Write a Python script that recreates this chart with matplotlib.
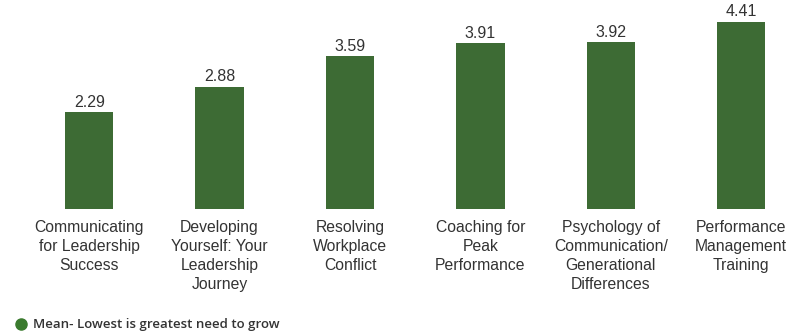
import numpy as np
import matplotlib.pyplot as plt
from matplotlib.lines import Line2D

categories = ["Communicating\nfor Leadership\nSuccess",
              "Developing\nYourself: Your\nLeadership\nJourney",
              "Resolving\nWorkplace\nConflict",
              "Coaching for\nPeak\nPerformance",
              "Psychology of\nCommunication/\nGenerational\nDifferences",
              "Performance\nManagement\nTraining"]
means = [2.29, 2.88, 3.59, 3.91, 3.92, 4.41]
legend_label = "Mean- Lowest is greatest need to grow"

bar_color = '#3d6b34'

fig = plt.figure(figsize=(7.9, 3.31), dpi=100)
ax = fig.add_axes([24/790, (331-209)/331, 766/790, 204/331])

x = np.arange(len(categories))
bars = ax.bar(x, means, 0.37, color=bar_color)

for xi, v in zip(x, means):
    ax.text(xi, v + 0.05, "%.2f" % v, ha='center', va='bottom',
            fontsize=11.5, color='#333333', family='Liberation Sans')

ax.set_xlim(-0.5, 5.374)
ax.set_ylim(0, 4.8)
ax.set_xticks(x)
ax.set_xticklabels(categories, fontsize=11.3, color='#333333',
                   family='Liberation Sans', linespacing=1.32)
ax.tick_params(axis='x', length=0, pad=8)
ax.set_yticks([])
for s in ax.spines.values():
    s.set_visible(False)

handle = Line2D([], [], marker='o', color='none', markerfacecolor='#3a7a2e',
                markeredgecolor='#3a7a2e', markersize=8)
fig.legend([handle], [legend_label], loc='lower left', bbox_to_anchor=(0.002, -0.037),
           frameon=False, handletextpad=0.3, handlelength=1.2,
           prop={'family': 'Open Sans', 'size': 9.5, 'weight': 'semibold'},
           labelcolor='#333333')

fig.savefig("out.png", dpi=100)
